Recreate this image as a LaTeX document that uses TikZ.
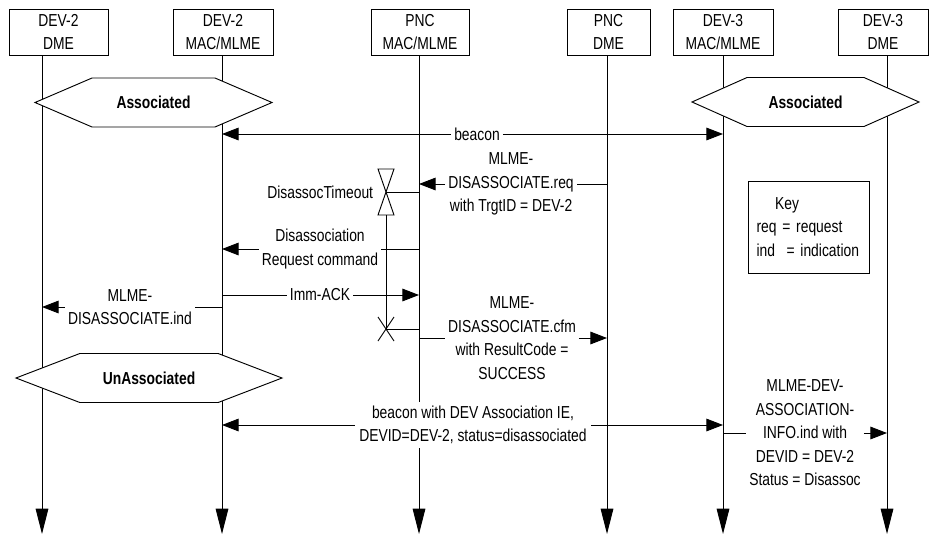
\documentclass[tikz,border=0pt]{standalone}
\usepackage{fontspec}
\setmainfont{Liberation Sans}[FakeStretch=0.8]
\usetikzlibrary{arrows.meta,shapes.symbols,positioning}
\tikzset{box/.style={draw,rectangle,minimum height=34.5pt,inner sep=0pt,align=center}}
\tikzset{state/.style={draw,fill=white,signal,signal to=west and east,inner sep=0pt,minimum height=36.75pt,font=\bfseries\fontsize{13}{17.6}\selectfont}}
\tikzset{lbl/.style={fill=white,inner sep=2pt,align=center}}
\tikzset{life/.style={-{Triangle[length=19pt,width=9.5pt]}}}
\tikzset{msg/.style={-{Triangle[length=12.5pt,width=9.5pt]}}}

\begin{document}
\begin{tikzpicture}[x=0.75pt,y=-0.75pt,line width=0.7pt,font=\fontsize{13}{17.6}\selectfont]
        \useasboundingbox (0,0) rectangle (930,536);

        \node[box,minimum width=74.25pt] (d2dme) at (58.5,32) {DEV-2\\DME};
        \node[box,minimum width=75pt] (d2mac) at (223,32) {DEV-2\\MAC/MLME};
        \node[box,minimum width=73.5pt] (pncmac) at (420,32) {PNC\\MAC/MLME};
        \node[box,minimum width=62.25pt] (pncdme) at (608.5,32) {PNC\\DME};
        \node[box,minimum width=75pt] (d3mac) at (723,32) {DEV-3\\MAC/MLME};
        \node[box,minimum width=67.5pt] (d3dme) at (883,32) {DEV-3\\DME};

        \coordinate (e1) at (42,534);
        \coordinate (e2) at (222,534);
        \coordinate (e3) at (419,534);
        \coordinate (e4) at (607,534);
        \coordinate (e5) at (723,534);
        \coordinate (e6) at (887,534);

        \draw [life] (d2dme.south -| e1) to (e1);
        \draw [life] (d2mac.south -| e2) to (e2);
        \draw [life] (pncmac.south -| e3) to (e3);
        \draw [life] (pncdme.south -| e4) to (e4);
        \draw [life] (d3mac.south -| e5) to (e5);
        \draw [life] (d3dme.south -| e6) to (e6);

        \node[state,minimum width=177.75pt,signal pointer angle=46.5] (asc1) at (153.5,102.5) {Associated};
        \node[state,minimum width=170.25pt,signal pointer angle=48] (asc2) at (805.5,102) {Associated};
        \node[state,minimum width=199.5pt,signal pointer angle=42] (unasc) at (149,378) {UnAssociated};

        \node[draw,minimum width=90.75pt,minimum height=69pt,text width=78pt,align=left] (key) at (808.5,227) {\hspace{14pt}Key\\req = request\\ind~ = indication};

        % beacon
        \node[lbl] (bcn) at (477,134) {beacon};
        \draw [msg] (bcn.west) to (bcn -| e2);
        \draw [msg] (bcn.east) to (bcn -| e5);

        % disassociate request
        \node[lbl] (req) at (511,184) {MLME-\\DISASSOCIATE.req\\with TrgtID = DEV-2};
        \draw [] (req -| e4) to (req.east);
        \draw [msg] (req.west) to (req -| e3);

        % timer
        \coordinate (tmr) at (386,192);
        \coordinate (tend) at (386,329);
        \draw (tmr) -- ++(-8,-23) -- ++(16,0) -- cycle;
        \draw (tmr) -- ++(-8,23) -- ++(16,0) -- cycle;
        \draw (tmr) to (tmr -| e3);
        \node[left=6pt of tmr] (tmo) {DisassocTimeout};
        \draw (tmr) ++(0,23) -- (tend);
        \draw (tend) ++(-8,-12) -- ++(16,24) (tend) ++(-8,12) -- ++(16,-24);
        \draw (tend) to (tend -| e3);

        \node[lbl] (dreq) at (320,249) {Disassociation\\Request command};
        \draw [] (dreq -| e3) to (dreq.east);
        \draw [msg] (dreq.west) to (dreq -| e2);

        \node[lbl] (ack) at (320,295) {Imm-ACK};
        \draw [] (ack -| e2) to (ack.west);
        \draw [msg] (ack.east) to (ack -| e3);

        \node[lbl] (ind) at (130,307) {MLME-\\DISASSOCIATE.ind};
        \draw [] (ind -| e2) to (ind.east);
        \draw [msg] (ind.west) to (ind -| e1);

        \node[lbl] (cfm) at (512,338) {MLME-\\DISASSOCIATE.cfm\\with ResultCode =\\SUCCESS};
        \draw [] (cfm -| e3) to (cfm.west);
        \draw [msg] (cfm.east) to (cfm -| e4);

        % beacon after disassociation
        \node[lbl,inner sep=3pt] (bcn2) at (473,425) {beacon with DEV Association IE,\\DEVID=DEV-2, status=disassociated};
        \draw [msg] (bcn2.west) to (bcn2 -| e2);
        \draw [msg] (bcn2.east) to (bcn2 -| e5);

        \node[lbl] (info) at (805,433) {MLME-DEV-\\ASSOCIATION-\\INFO.ind with\\DEVID = DEV-2\\Status = Disassoc};
        \draw [] (info -| e5) to (info.west);
        \draw [msg] (info.east) to (info -| e6);
    \end{tikzpicture}
\end{document}
